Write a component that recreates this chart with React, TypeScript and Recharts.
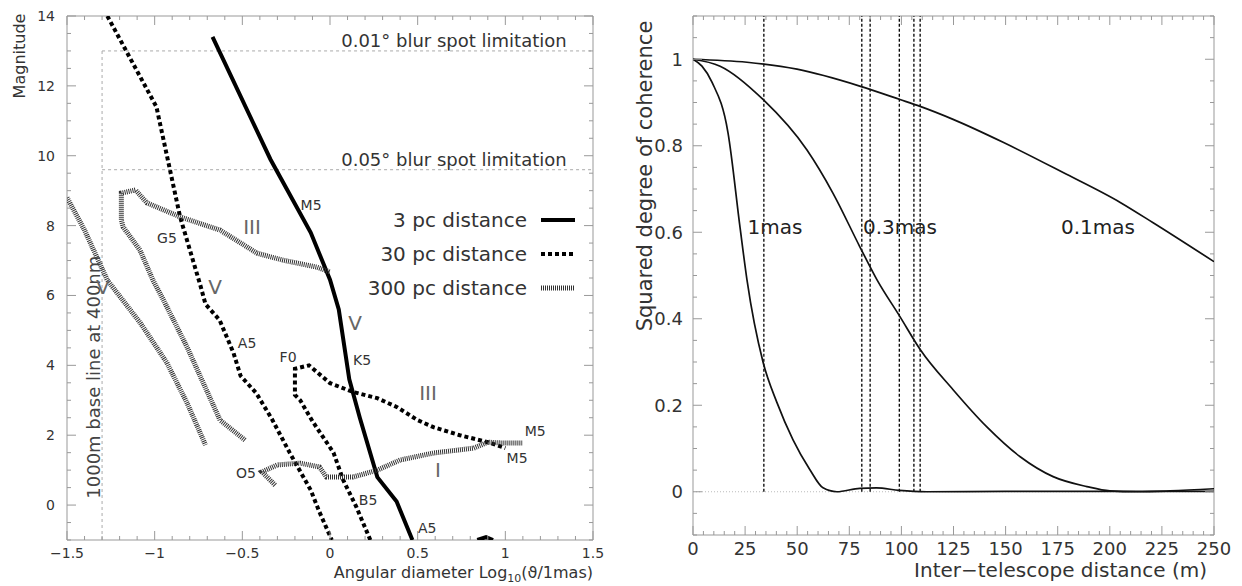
import React from "react";
import { LineChart, Line, XAxis, YAxis, ReferenceLine, ReferenceDot, ReferenceArea, Legend } from "recharts";

const FONT = "'DejaVu Sans', sans-serif";
const FRAME = "#999";
const INK = "#333";

// ── left panel: magnitude vs angular diameter ──────────────
const diamTicks = [-1.5, -1, -0.5, 0, 0.5, 1, 1.5];
const magTicks = [0, 2, 4, 6, 8, 10, 12, 14];

const pc3Main = [
  { x: -0.67, y: 13.4 }, { x: -0.34, y: 9.9 }, { x: -0.11, y: 7.8 }, { x: 0.0, y: 6.45 },
  { x: 0.05, y: 5.6 }, { x: 0.11, y: 3.6 }, { x: 0.17, y: 2.5 }, { x: 0.27, y: 0.8 },
  { x: 0.38, y: 0.1 }, { x: 0.47, y: -1 },
];
const pc3Tail = [{ x: 0.84, y: -1 }, { x: 0.89, y: -0.92 }, { x: 0.93, y: -1 }];

const pc30Main = [
  { x: -1.27, y: 14 }, { x: -0.99, y: 11.4 }, { x: -0.855, y: 8.25 }, { x: -0.74, y: 6.3 },
  { x: -0.71, y: 5.75 }, { x: -0.63, y: 5.3 }, { x: -0.55, y: 4.35 }, { x: -0.51, y: 3.7 },
  { x: -0.42, y: 3.2 }, { x: -0.33, y: 2.45 }, { x: -0.23, y: 1.5 }, { x: -0.11, y: 0.43 },
  { x: -0.06, y: -0.2 }, { x: 0.01, y: -1 },
];
const pc30Loop = [
  { x: 0.23, y: -1 }, { x: 0.15, y: -0.05 }, { x: 0.075, y: 0.72 }, { x: 0.02, y: 1.5 },
  { x: -0.1, y: 2.4 }, { x: -0.17, y: 3.0 }, { x: -0.2, y: 3.15 }, { x: -0.2, y: 3.9 },
  { x: -0.12, y: 4.0 }, { x: 0.0, y: 3.49 }, { x: 0.13, y: 3.24 }, { x: 0.27, y: 3.06 },
  { x: 0.38, y: 2.81 }, { x: 0.5, y: 2.43 }, { x: 0.59, y: 2.23 }, { x: 0.74, y: 2.0 },
  { x: 0.9, y: 1.8 }, { x: 1.0, y: 1.63 },
];

const pc300Main = [
  { x: -1.5, y: 8.8 }, { x: -1.4, y: 7.87 }, { x: -1.27, y: 6.44 }, { x: -1.08, y: 5.2 },
  { x: -0.93, y: 4.07 }, { x: -0.815, y: 2.92 }, { x: -0.71, y: 1.72 },
];
const pc300Loop = [
  { x: -0.485, y: 1.86 }, { x: -0.627, y: 2.43 }, { x: -0.815, y: 4.52 }, { x: -0.95, y: 5.87 },
  { x: -1.01, y: 6.44 }, { x: -1.084, y: 7.3 }, { x: -1.18, y: 7.96 }, { x: -1.19, y: 8.16 },
  { x: -1.19, y: 8.93 }, { x: -1.11, y: 9.02 }, { x: -1.044, y: 8.65 }, { x: -0.855, y: 8.25 },
  { x: -0.627, y: 7.87 }, { x: -0.416, y: 7.21 }, { x: -0.268, y: 7.01 }, { x: -0.074, y: 6.81 },
  { x: 0.0, y: 6.67 },
];
const pc300Super = [
  { x: -0.313, y: 0.57 }, { x: -0.388, y: 0.95 }, { x: -0.3, y: 1.15 }, { x: -0.17, y: 1.2 },
  { x: -0.06, y: 1.09 }, { x: -0.02, y: 0.8 }, { x: 0.13, y: 0.8 }, { x: 0.27, y: 1.0 },
  { x: 0.4, y: 1.29 }, { x: 0.59, y: 1.49 }, { x: 0.82, y: 1.63 }, { x: 0.9, y: 1.8 },
  { x: 0.97, y: 1.78 }, { x: 1.1, y: 1.78 },
];

const blurLimits = [
  { mag: 13, text: "0.01° blur spot limitation" },
  { mag: 9.6, text: "0.05° blur spot limitation" },
];
const baselineDiam = -1.3;

const spectralNotes = [
  { x: -0.108, y: 8.59, text: "M5" }, { x: -0.93, y: 7.64, text: "G5" },
  { x: -0.473, y: 4.64, text: "A5" }, { x: -0.239, y: 4.24, text: "F0" },
  { x: -0.479, y: 0.92, text: "O5" }, { x: 0.183, y: 4.15, text: "K5" },
  { x: 1.17, y: 2.12, text: "M5" }, { x: 1.067, y: 1.35, text: "M5" },
  { x: 0.217, y: 0.14, text: "B5" }, { x: 0.554, y: -0.66, text: "A5" },
];
const classNotes = [
  { x: -0.445, y: 7.96, text: "III" }, { x: -0.656, y: 6.24, text: "V" },
  { x: -1.295, y: 6.24, text: "V" }, { x: 0.143, y: 5.21, text: "V" },
  { x: 0.559, y: 3.21, text: "III" }, { x: 0.616, y: 1.0, text: "I" },
];

// ── right panel: coherence vs baseline ─────────────────────
const baseTicks = [0, 25, 50, 75, 100, 125, 150, 175, 200, 225, 250];
const cohTicks = [0, 0.2, 0.4, 0.6, 0.8, 1];

const mas1 = [
  { x: 0, y: 1 }, { x: 4.3, y: 0.984 }, { x: 9.1, y: 0.947 }, { x: 16.8, y: 0.83 },
  { x: 22.6, y: 0.61 }, { x: 25.9, y: 0.49 }, { x: 33.6, y: 0.3 }, { x: 40.3, y: 0.206 },
  { x: 48, y: 0.12 }, { x: 56.1, y: 0.051 }, { x: 62.4, y: 0.009 }, { x: 69, y: 0.0 },
  { x: 80, y: 0.008 }, { x: 88, y: 0.009 }, { x: 99, y: 0.003 }, { x: 112, y: 0.0 },
  { x: 150, y: 0.001 }, { x: 200, y: 0.001 }, { x: 250, y: 0.001 },
];
const mas03 = [
  { x: 0, y: 1 }, { x: 13, y: 0.984 }, { x: 33.6, y: 0.907 }, { x: 54.7, y: 0.79 },
  { x: 67.2, y: 0.69 }, { x: 80, y: 0.567 }, { x: 88.3, y: 0.49 }, { x: 99.3, y: 0.405 },
  { x: 109, y: 0.329 }, { x: 124.8, y: 0.236 }, { x: 141, y: 0.15 }, { x: 157, y: 0.081 },
  { x: 172.8, y: 0.035 }, { x: 189, y: 0.012 }, { x: 200, y: 0.002 }, { x: 213, y: 0.0 },
  { x: 229, y: 0.002 }, { x: 250, y: 0.007 },
];
const mas01 = [
  { x: 0, y: 1 }, { x: 25.9, y: 0.993 }, { x: 49.9, y: 0.977 }, { x: 80, y: 0.938 },
  { x: 99.3, y: 0.907 }, { x: 109, y: 0.891 }, { x: 124.8, y: 0.861 }, { x: 148.8, y: 0.808 },
  { x: 177.6, y: 0.738 }, { x: 205, y: 0.669 }, { x: 220.8, y: 0.622 }, { x: 250, y: 0.532 },
];
const stationBaselines = [34, 81, 85, 99, 106, 109];
const curveNotes = [
  { x: 39.3, y: 0.611, text: "1mas" },
  { x: 99.3, y: 0.611, text: "0.3mas" },
  { x: 194.3, y: 0.613, text: "0.1mas" },
];

const range = (a: number, b: number, s: number) => {
  const out: number[] = [];
  for (let v = a; v <= b + 1e-9; v += s) out.push(Math.round(v * 1000) / 1000);
  return out;
};

const S3 = { stroke: "#000", strokeWidth: 4 };
const S30 = { stroke: "#000", strokeWidth: 4, strokeDasharray: "4 3" };
const S300 = { stroke: "#333", strokeWidth: 5, strokeDasharray: "1 1" };

// plot boxes (chart pixel coords) – used only for tick marks on the frame
const BOX_L = { left: 67, right: 593, top: 16, bottom: 540 };
const BOX_R = { left: 73, right: 594, top: 16, bottom: 535 };

const fmtNum = (v: number) => String(v).replace("-", "\u2212");

// x tick: inward marks at bottom and top, label on majors
const xTick = (box: any, majors: number[], size: number, gap: number) => (p: any) => {
  const v = p.payload.value;
  const major = majors.includes(v);
  const len = major ? 9 : 4;
  return (
    <g>
      <line x1={p.x} x2={p.x} y1={box.bottom} y2={box.bottom - len} stroke={FRAME} />
      <line x1={p.x} x2={p.x} y1={box.top} y2={box.top + len} stroke={FRAME} />
      {major && (
        <text x={p.x} y={box.bottom + gap} textAnchor="middle" dominantBaseline="central" fontSize={size} fill={INK} fontFamily={FONT}>
          {fmtNum(v)}
        </text>
      )}
    </g>
  );
};
// y tick: inward marks at left and right, label on majors
const yTick = (box: any, majors: number[], size: number, gap: number) => (p: any) => {
  const v = p.payload.value;
  const major = majors.includes(v);
  const len = major ? 9 : 4;
  return (
    <g>
      <line y1={p.y} y2={p.y} x1={box.left} x2={box.left + len} stroke={FRAME} />
      <line y1={p.y} y2={p.y} x1={box.right} x2={box.right - len} stroke={FRAME} />
      {major && (
        <text x={box.left - gap} y={p.y} textAnchor="end" dominantBaseline="central" fontSize={size} fill={INK} fontFamily={FONT}>
          {fmtNum(v)}
        </text>
      )}
    </g>
  );
};

function note(n: any, key: string, size: number, color: string, opts: any = {}) {
  const { anchor = "middle", dx = 0, dy = 0, angle = 0 } = opts;
  return (
    <ReferenceDot
      key={key}
      xAxisId="x"
      yAxisId="y"
      x={n.x}
      y={n.y}
      r={1}
      ifOverflow="visible"
      shape={(p: any) => {
        const tx = p.cx + dx;
        const ty = p.cy + dy;
        return (
          <text
            x={tx}
            y={ty}
            transform={angle ? `rotate(${angle} ${tx} ${ty})` : undefined}
            textAnchor={anchor}
            dominantBaseline="central"
            fontSize={size}
            fill={color}
            fontFamily={FONT}
          >
            {n.text}
          </text>
        );
      }}
    />
  );
}

const LegendBox = ({ payload }: any) => (
  <div style={{ fontFamily: FONT }}>
    {(payload || [])
      .filter((p: any) => p.type !== "none")
      .map((p: any) => {
        const s = p.payload || {};
        return (
          <div key={p.value} style={{ display: "flex", justifyContent: "flex-end", alignItems: "center", height: 34 }}>
            <span style={{ fontSize: 20, color: INK }}>{p.value}</span>
            <svg width={34} height={8} style={{ marginLeft: 14 }}>
              <line x1={0} y1={4} x2={34} y2={4} stroke={s.stroke} strokeWidth={s.strokeWidth} strokeDasharray={s.strokeDasharray} />
            </svg>
          </div>
        );
      })}
  </div>
);

const LeftXTitle = () => (
  <text x={593} y={578} textAnchor="end" fontSize={16} fill={INK} fontFamily={FONT}>
    Angular diameter Log<tspan fontSize={11} dy={4}>10</tspan>
    <tspan dy={-4} fontSize={16}>(ϑ/1mas)</tspan>
  </text>
);
const LeftYTitle = () => (
  <text transform="translate(25,56) rotate(-90)" textAnchor="middle" fontSize={16} fill={INK} fontFamily={FONT}>
    Magnitude
  </text>
);
const RightXTitle = () => (
  <text x={587} y={577} textAnchor="end" fontSize={20} fill={INK} fontFamily={FONT}>
    Inter−telescope distance (m)
  </text>
);
const RightYTitle = () => (
  <text transform="translate(32,176) rotate(-90)" textAnchor="middle" fontSize={21} fill={INK} fontFamily={FONT}>
    Squared degree of coherence
  </text>
);

function MagnitudePanel() {
  const line = (data: any[], style: any, name: string, legend = true) => (
    <Line
      key={name}
      xAxisId="x"
      yAxisId="y"
      data={data}
      dataKey="y"
      type="linear"
      dot={false}
      isAnimationActive={false}
      name={name}
      legendType={legend ? "line" : "none"}
      {...style}
    />
  );
  return (
    <LineChart width={620} height={586} margin={{ top: 16, right: 27, bottom: 0, left: 0 }}>
      <XAxis
        xAxisId="x"
        type="number"
        dataKey="x"
        domain={[-1.5, 1.5]}
        ticks={range(-1.5, 1.5, 0.1)}
        interval={0}
        allowDataOverflow
        height={46}
        tickLine={false}
        axisLine={false}
        tick={xTick(BOX_L, diamTicks, 14, 13)}
        label={<LeftXTitle />}
      />
      <YAxis
        yAxisId="y"
        type="number"
        domain={[-1, 14]}
        ticks={range(-1, 14, 0.5)}
        interval={0}
        allowDataOverflow
        width={67}
        tickLine={false}
        axisLine={false}
        tick={yTick(BOX_L, magTicks, 14, 12)}
        label={<LeftYTitle />}
      />
      <ReferenceArea xAxisId="x" yAxisId="y" x1={-1.5} x2={1.5} y1={-1} y2={14} fill="none" stroke={FRAME} fillOpacity={0} />

      {blurLimits.map((b) => (
        <ReferenceLine
          key={b.text}
          xAxisId="x"
          yAxisId="y"
          segment={[{ x: baselineDiam, y: b.mag }, { x: 1.5, y: b.mag }]}
          stroke="#aaa"
          strokeDasharray="3 3"
        />
      ))}
      <ReferenceLine
        xAxisId="x"
        yAxisId="y"
        segment={[{ x: baselineDiam, y: -1 }, { x: baselineDiam, y: blurLimits[0].mag }]}
        stroke="#aaa"
        strokeDasharray="3 3"
      />

      {line(pc3Main, S3, "3 pc distance")}
      {line(pc30Main, S30, "30 pc distance")}
      {line(pc300Main, S300, "300 pc distance")}
      {line(pc3Tail, S3, "3 pc tail", false)}
      {line(pc30Loop, S30, "30 pc giants", false)}
      {line(pc300Loop, S300, "300 pc giants", false)}
      {line(pc300Super, S300, "300 pc supergiants", false)}

      {blurLimits.map((b) => note({ x: 1.35, y: b.mag, text: b.text }, "b" + b.mag, 18, INK, { anchor: "end", dy: -10 }))}
      {note({ x: baselineDiam, y: 3.66, text: "1000m base line at 400nm" }, "base", 18, "#444", { dx: -9, angle: -90 })}
      {spectralNotes.map((n, i) => note(n, "s" + i, 14, INK))}
      {classNotes.map((n, i) => note(n, "c" + i, 20, "#666"))}

      <Legend
        content={<LegendBox />}
        layout="horizontal"
        align="center"
        verticalAlign="middle"
        wrapperStyle={{ position: "absolute", left: 335, top: 203, width: 240 }}
      />
    </LineChart>
  );
}

function CoherencePanel() {
  return (
    <LineChart width={622} height={586} margin={{ top: 16, right: 28, bottom: 0, left: 0 }}>
      <XAxis
        xAxisId="x"
        type="number"
        dataKey="x"
        domain={[0, 250]}
        ticks={range(0, 250, 5)}
        interval={0}
        allowDataOverflow
        height={51}
        tickLine={false}
        axisLine={false}
        tick={xTick(BOX_R, baseTicks, 18, 13)}
        label={<RightXTitle />}
      />
      <YAxis
        yAxisId="y"
        type="number"
        domain={[-0.1, 1.1]}
        ticks={range(-0.1, 1.1, 0.05)}
        interval={0}
        allowDataOverflow
        width={73}
        tickLine={false}
        axisLine={false}
        tick={yTick(BOX_R, cohTicks, 18, 10)}
        label={<RightYTitle />}
      />
      <ReferenceArea xAxisId="x" yAxisId="y" x1={0} x2={250} y1={-0.1} y2={1.1} fill="none" stroke={FRAME} fillOpacity={0} />

      <ReferenceLine xAxisId="x" yAxisId="y" y={0} stroke="#bbb" strokeDasharray="1 2" />
      {stationBaselines.map((b) => (
        <ReferenceLine
          key={b}
          xAxisId="x"
          yAxisId="y"
          segment={[{ x: b, y: 0 }, { x: b, y: 1.1 }]}
          stroke="#000"
          strokeWidth={1.3}
          strokeDasharray="3 2"
        />
      ))}
      {[mas1, mas03, mas01].map((d, i) => (
        <Line
          key={i}
          xAxisId="x"
          yAxisId="y"
          data={d}
          dataKey="y"
          type="monotone"
          stroke="#111"
          strokeWidth={1.7}
          dot={false}
          isAnimationActive={false}
        />
      ))}
      {curveNotes.map((n, i) => note(n, "m" + i, 20, "#222"))}
    </LineChart>
  );
}

export default function App() {
  return (
    <div style={{ position: "absolute", left: 0, top: 0, width: 1242, height: 586, background: "#fff", fontFamily: FONT }}>
      <div style={{ position: "absolute", left: 0, top: 0 }}>
        <MagnitudePanel />
      </div>
      <div style={{ position: "absolute", left: 620, top: 0 }}>
        <CoherencePanel />
      </div>
    </div>
  );
}
